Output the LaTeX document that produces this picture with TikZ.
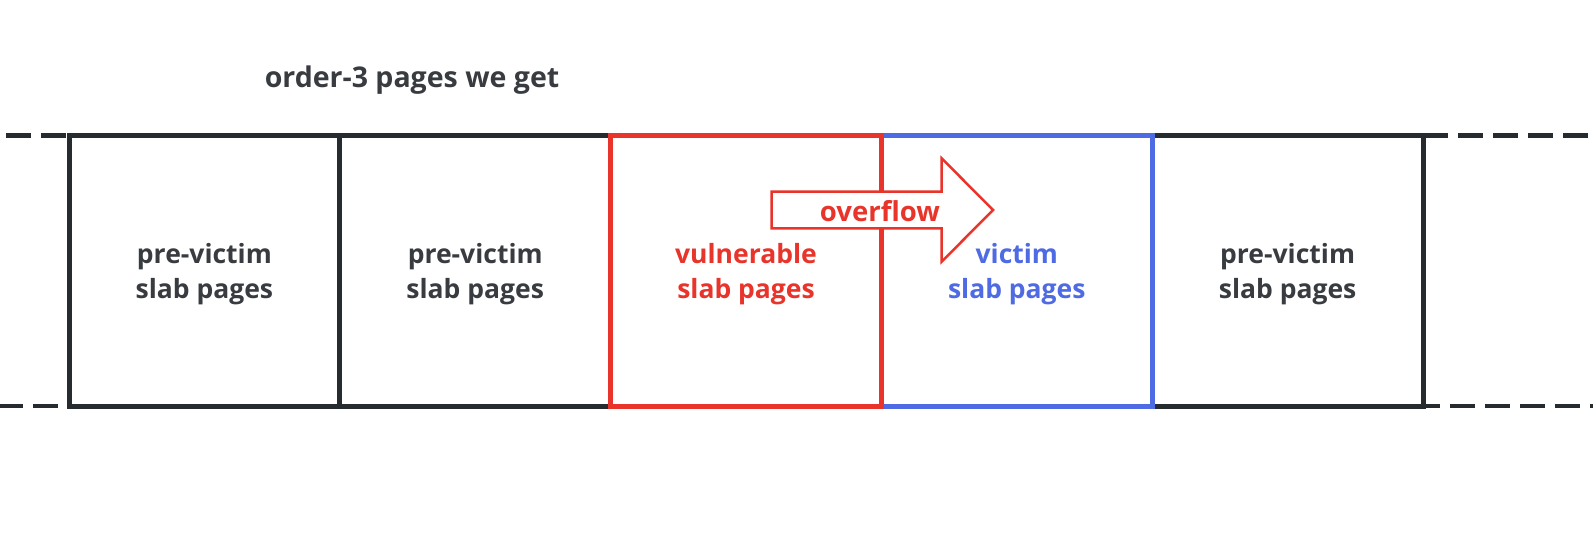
\documentclass[tikz,border=0pt]{standalone}
\usepackage{fontspec}
\setmainfont{Open Sans}
\definecolor{dk}{HTML}{262B30}
\definecolor{txt}{HTML}{383B3F}
\definecolor{rd}{HTML}{E8342A}
\definecolor{bl}{HTML}{4F6BE3}
\begin{document}
\begin{tikzpicture}[x=1pt,y=-1pt,
  pagebox/.style={draw=dk, line width=5pt, minimum width=270.8pt, minimum height=270.5pt,
    inner sep=0pt, outer sep=0pt},
  boxlabel/.style={text=txt, align=center, inner sep=0pt,
    font=\bfseries\fontsize{26.5}{35}\selectfont},
  dashline/.style={draw=dk, line width=4.5pt, dash pattern=on 25pt off 10pt},
  arrowline/.style={draw=rd, line width=2.5pt, fill=white, line join=miter}]
\useasboundingbox (0,0) rectangle (1593,539);
\fill[white] (0,0) rectangle (1593,539);
% title
\node[text=txt, font=\bfseries\fontsize{28.5}{32}\selectfont, anchor=base] (title) at (412,87) {order-3 pages we get};
% boxes
\node[pagebox] (b1) at (204.4,270.75) {};
\node[pagebox] (b2) at (475.2,270.75) {};
\node[pagebox] (b5) at (1287.6,270.75) {};
\node[pagebox, draw=bl] (b4) at (1016.8,270.75) {};
\node[pagebox, draw=rd] (b3) at (746.0,270.75) {};
% dashed continuations
\coordinate (lt) at (6,135.5);
\coordinate (lb) at (-2,406);
\coordinate (rt) at (1600,135.5);
\coordinate (rb) at (1600,406);
\draw[dashline] (lt) -- (b1.north west);
\draw[dashline] (lb) -- ([xshift=-10pt]b1.south west);
\draw[dashline] (b5.north east) -- (rt);
\draw[dashline, dash phase=8pt] (b5.south east) -- (rb);
% overflow arrow
\coordinate (a1) at (771.7,191.7);
\coordinate (a2) at (941.7,191.7);
\coordinate (a3) at (941.7,158.3);
\coordinate (a4) at (993,210);
\coordinate (a5) at (941.7,261.7);
\coordinate (a6) at (941.7,228.3);
\coordinate (a7) at (771.7,228.3);
\draw[arrowline] (a1) -- (a2) -- (a3) -- (a4) -- (a5) -- (a6) -- (a7) -- cycle;
% labels
\node[boxlabel] (t1) at ([yshift=-3.5pt]b1.center) {pre-victim\\slab pages};
\node[boxlabel] (t2) at ([yshift=-3.5pt]b2.center) {pre-victim\\slab pages};
\node[boxlabel] (t5) at ([yshift=-3.5pt]b5.center) {pre-victim\\slab pages};
\node[boxlabel, text=bl] (t4) at ([yshift=-3.5pt]b4.center) {victim\\slab pages};
\node[boxlabel, text=rd] (t3) at ([yshift=-3.5pt]b3.center) {vulnerable\\slab pages};
\node[text=rd, font=\bfseries\fontsize{27.5}{30}\selectfont, anchor=base east, inner sep=0pt] (ov) at (940,221) {overflow};
\end{tikzpicture}
\end{document}
